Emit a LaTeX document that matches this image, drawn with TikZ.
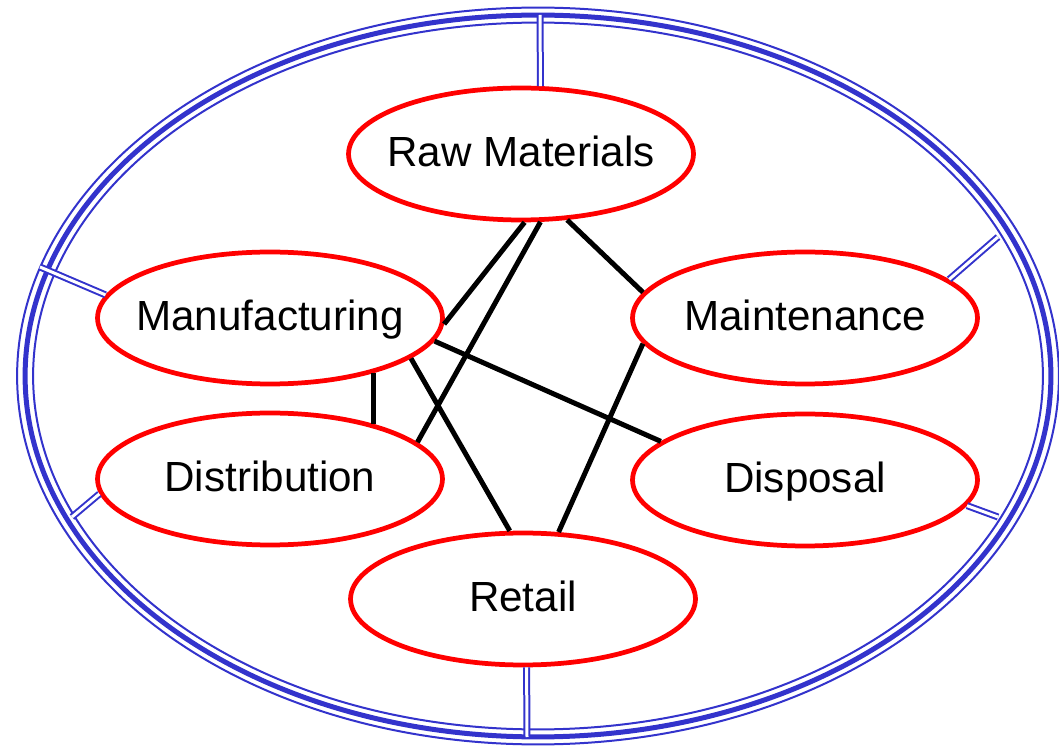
\documentclass[tikz,border=0pt]{standalone}
\usepackage{fontspec}
\setmainfont{Liberation Sans}
\usetikzlibrary{shapes.geometric}
\definecolor{ringblue}{RGB}{51,51,204}
\tikzset{
  stage/.style={ellipse, draw=red, line width=0.095cm, minimum width=6.9cm,
    minimum height=2.64cm, inner xsep=-0.4cm, inner ysep=0pt,
    text height=0.62cm, text depth=0.1cm,
    font=\fontsize{24}{28}\selectfont},
  link/.style={line width=0.1cm},
  spoke/.style={draw=ringblue, line width=0.04cm, double=white, double distance=0.06cm},
  ring/.style={draw=ringblue, line width=0.04cm}
}

\begin{document}
\begin{tikzpicture}[x=0.02cm, y=-0.02cm]
        \useasboundingbox (0,0) rectangle (1059,746);

        % outer ring
        \draw[ring, line width=0.1cm] (538,376) ellipse (10.26cm and 7.22cm);
        \draw[ring] (538,376) ellipse (10.42cm and 7.37cm);
        \draw[ring] (538,376) ellipse (10.1cm and 7.07cm);

        \node[stage] at (521,154) (raw) {Raw Materials};
        \node[stage] at (270,318) (manu) {Manufacturing};
        \node[stage] at (805,318) (maint) {Maintenance};
        \node[stage] at (270,479) (dist) {Distribution};
        \node[stage] at (805,480) (disp) {Disposal};
        \node[stage] at (523,599) (retail) {Retail};

        \coordinate (rTop) at (540,15);
        \coordinate (rBot) at (527,737);
        \coordinate (rLeftA) at (40,267);
        \coordinate (rLeftB) at (72,517);
        \coordinate (rRightA) at (998,237);
        \coordinate (rRightB) at (998,517);

        \draw[spoke] (raw.74) -- (rTop);
        \draw[spoke] (retail.273) -- (rBot);
        \draw[spoke] (manu.172) -- (rLeftA);
        \draw[spoke] (dist.185) -- (rLeftB);
        \draw[spoke] (maint.15) -- (rRightA);
        \draw[spoke] (disp.351) -- (rRightB);

        \draw[link] (raw.273) -- (manu.358);
        \draw[link] (raw.286) -- (dist.14);
        \draw[link] (raw.305) -- (maint.171);
        \draw[link] (manu.352) -- (disp.165);
        \draw[link] (manu.344) -- (retail.101);
        \draw[link] (manu.332) -- (dist.28);
        \draw[link] (maint.189) -- (retail.62);
\end{tikzpicture}
\end{document}
